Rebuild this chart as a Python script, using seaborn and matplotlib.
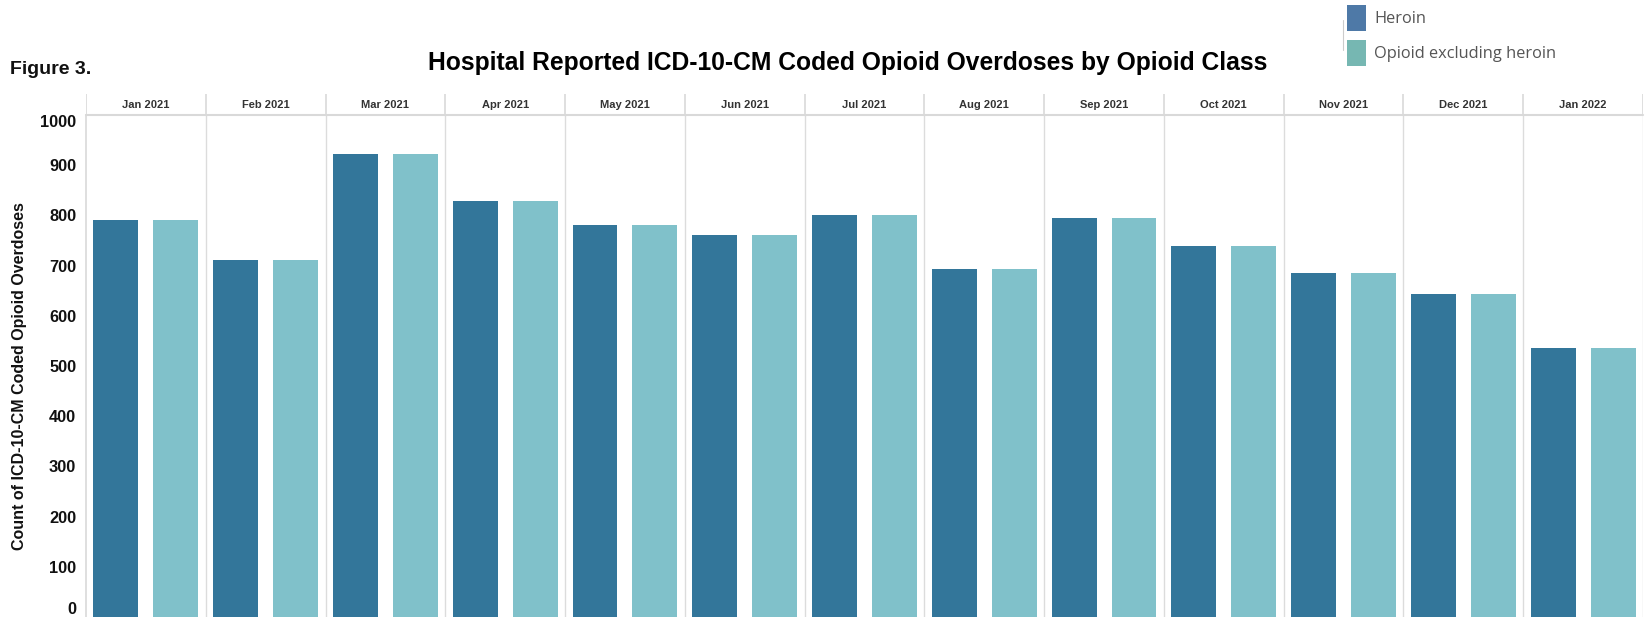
import matplotlib
matplotlib.use("Agg")
import matplotlib.pyplot as plt
import seaborn as sns
import pandas as pd

months = ["Jan 2021", "Feb 2021", "Mar 2021", "Apr 2021", "May 2021", "Jun 2021",
          "Jul 2021", "Aug 2021", "Sep 2021", "Oct 2021", "Nov 2021", "Dec 2021", "Jan 2022"]
heroin = [790, 711, 922, 828, 780, 761, 801, 694, 794, 740, 686, 644, 535]
opioid_excl_heroin = [790, 711, 922, 828, 780, 761, 801, 694, 794, 740, 686, 644, 535]
series_names = ["Heroin", "Opioid excluding heroin"]
y_ticks = [0, 100, 200, 300, 400, 500, 600, 700, 800, 900, 1000]

df = pd.DataFrame({
    "month": months * 2,
    "count": heroin + opioid_excl_heroin,
    "class": [series_names[0]] * len(months) + [series_names[1]] * len(months),
})

sns.set_theme(style="white")
plt.rcParams["font.family"] = ["Liberation Sans", "DejaVu Sans"]

W, H = 1647, 617
fig = plt.figure(figsize=(W / 100, H / 100), dpi=100)

left, right, top, bottom = 86, 1643, 115, 617
ax = fig.add_axes([left / W, 1 - bottom / H, (right - left) / W, (bottom - top) / H])
bar_colors = ["#33769a", "#80c1ca"]
sns.barplot(data=df, x="month", y="count", hue="class", order=months,
            hue_order=series_names, palette=bar_colors, width=1.0, gap=0.25,
            saturation=1, ax=ax, legend=False, edgecolor="none", linewidth=0)

n = len(months)
ax.set_xlim(-0.5, n - 0.5)
ax.set_ylim(0, 1000)
ax.set_xlabel("")
ax.set_ylabel("Count of ICD-10-CM Coded Opioid Overdoses", fontsize=11.5,
              fontweight="bold", color="#111111")
ax.yaxis.set_label_coords(-0.038, 0.48)
ax.set_xticks([])
ax.set_yticks(y_ticks)
ax.set_yticklabels([str(v) for v in y_ticks], fontsize=11.8, fontweight="bold", color="#111111")
ax.tick_params(axis="y", length=3, color="#e3e3e3", pad=4)
for lab, v in zip(ax.get_yticklabels(), y_ticks):
    if v == 1000:
        lab.set_va("top")
    elif v == 0:
        lab.set_va("bottom")
for s in ["top", "right", "bottom"]:
    ax.spines[s].set_visible(False)
ax.spines["left"].set_color("#d9d9d9")
ax.spines["left"].set_linewidth(1.2)
for i in range(n):
    ax.axvline(i + 0.5, color="#dcdcdc", lw=1.0, zorder=0)

# header row
hax = fig.add_axes([left / W, 1 - top / H, (right - left) / W, (top - 94) / H])
hax.set_xlim(-0.5, n - 0.5)
hax.set_ylim(0, 1)
hax.axis("off")
hax.axhline(0, color="#d9d9d9", lw=1.5, clip_on=False)
for i in range(-1, n):
    hax.axvline(i + 0.5, color="#d9d9d9", lw=1.2)
for i, m in enumerate(months):
    hax.text(i, 0.5, m, ha="center", va="center", fontsize=8, fontweight="bold", color="#333333")

fig.text(848 / W, 1 - 63 / H, "Hospital Reported ICD-10-CM Coded Opioid Overdoses by Opioid Class",
         ha="center", va="center", fontsize=17.7, fontweight="bold", color="#000000")
fig.text(10 / W, 1 - 69 / H, "Figure 3.", ha="left", va="center", fontsize=14,
         fontweight="bold", color="#111111")

# legend
leg_colors = ["#4e79a7", "#76b7b2"]
for k, (name, c) in enumerate(zip(series_names, leg_colors)):
    yc = 18 + 35 * k
    fig.patches.append(plt.Rectangle((1347 / W, 1 - (yc + 12.5) / H), 19 / W, 25 / H,
                                     transform=fig.transFigure, facecolor=c, edgecolor="none"))
    fig.text(1374 / W, 1 - (yc + 1) / H, name, ha="left", va="center", fontsize=11.8,
             family=["Open Sans", "DejaVu Sans"], color="#555555")
fig.add_artist(plt.Line2D([1343 / W, 1343 / W], [1 - 20 / H, 1 - 50 / H],
                          transform=fig.transFigure, color="#cccccc", lw=0.8))

fig.savefig("out.png", dpi=100)
